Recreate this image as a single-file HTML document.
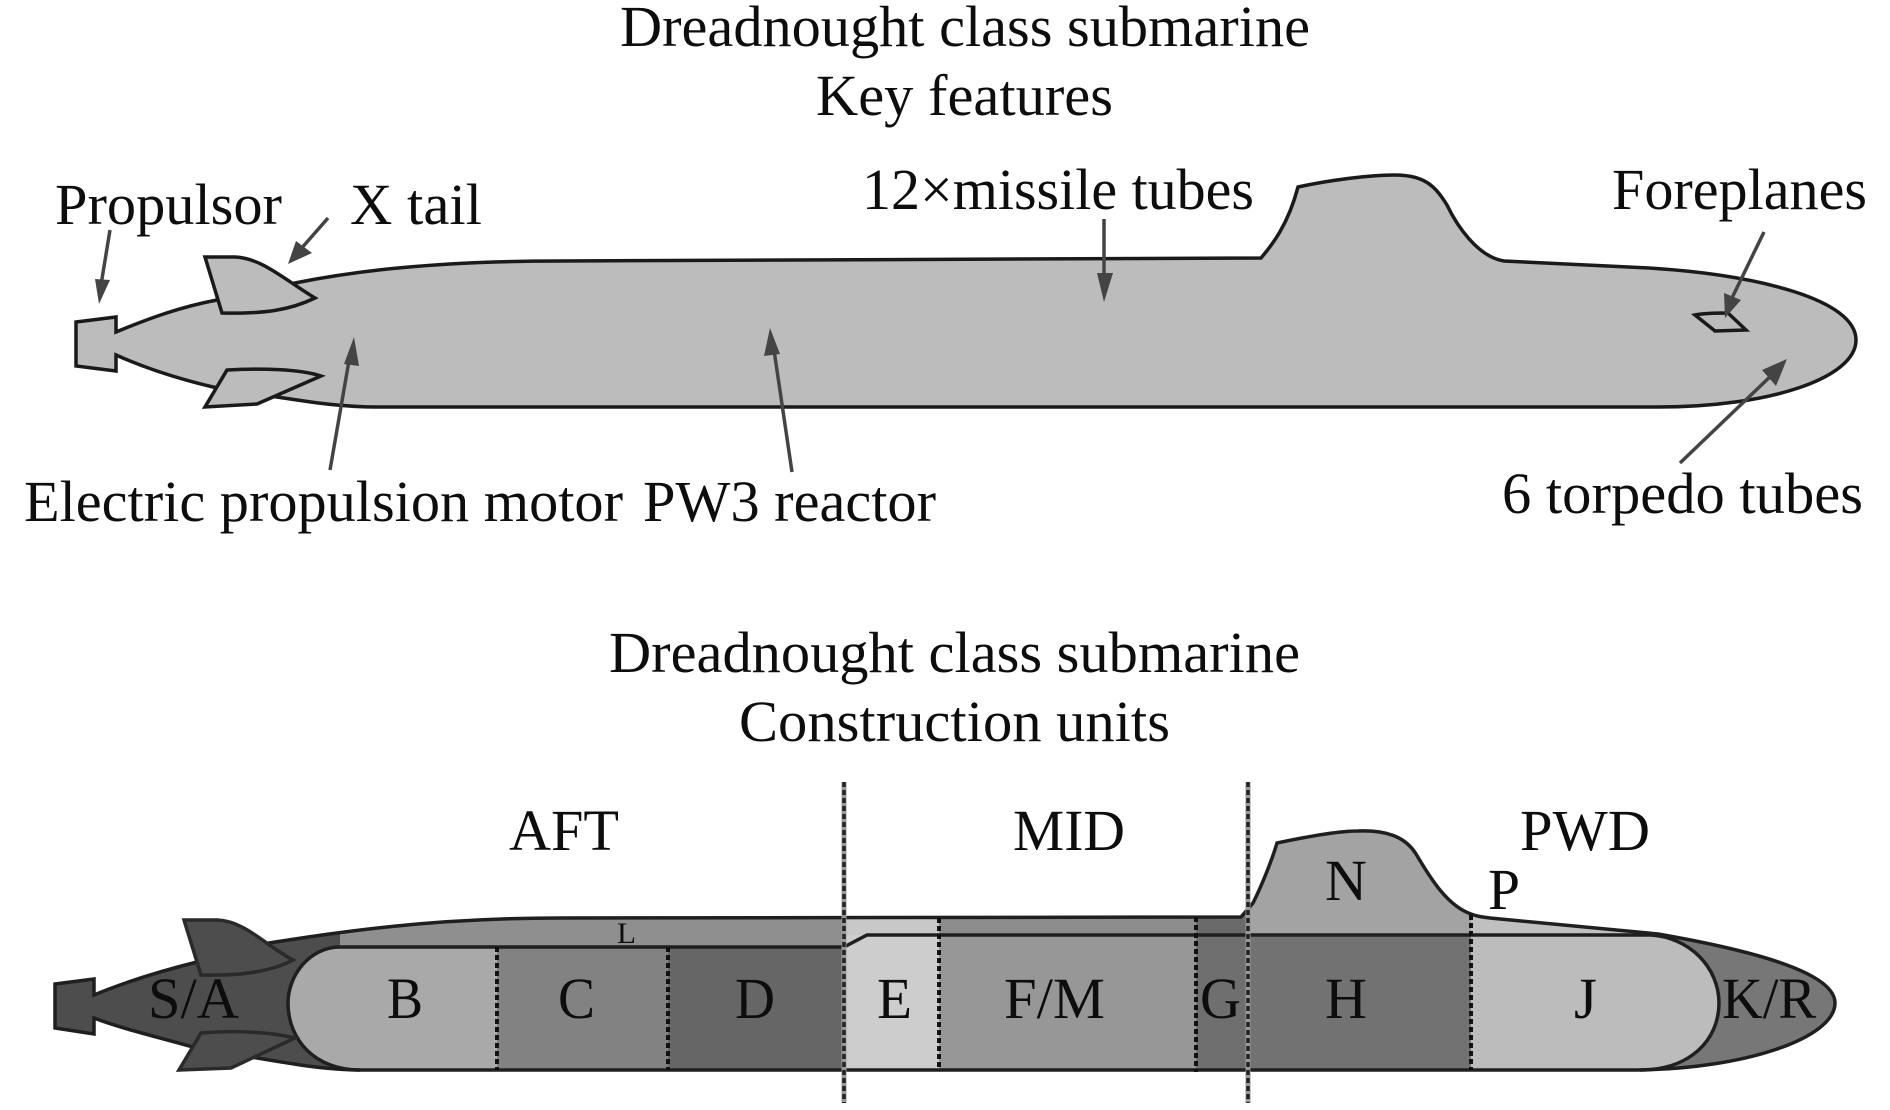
<!DOCTYPE html>
<html>
<head>
<meta charset="utf-8">
<style>
html,body{margin:0;padding:0;background:#fff;}
svg{display:block;}
text{font-family:"Liberation Serif",serif;font-size:58px;fill:#0d0d0d;}
</style>
</head>
<body>
<svg width="1890" height="1110" viewBox="0 0 1890 1110" xmlns="http://www.w3.org/2000/svg">
<defs>
<clipPath id="hullClip"><path d="M55 984 L94 979 L94 995 C130 980 165 970 197 962 L269 943 C340 932 430 918 560 918 L1241 917 L1253 903 C1262 885 1272 860 1277 843 C1310 836 1340 831 1358 831 C1385 830 1405 836 1416 854 C1427 872 1445 905 1471 914 C1478 917 1484 917 1490 918 L1658 934 C1750 950 1835 972 1835 1003 C1835 1038 1745 1069 1636 1070 L362 1070 C320 1070 280 1062 193 1047 C150 1035 120 1028 94 1018 L94 1034 L55 1028 Z"/></clipPath>
</defs>
<rect width="1890" height="1110" fill="#fff"/>

<!-- TOP SUBMARINE -->
<path d="M76 322 L116 317 L116 332 C150 318 180 307 217 300 L295 283 C350 272 430 261 560 261 L1261 258 C1272 245 1288 225 1298 187 C1330 180 1370 175 1394 175 C1425 175 1435 186 1447 205 C1457 226 1478 257 1504 261 L1649 268 C1760 275 1856 300 1856 340 C1856 378 1770 407 1658 407 L378 407 C340 407 310 402 277 397 L213 387 C175 378 145 368 116 355 L116 371 L76 366 Z" fill="#bcbcbc" stroke="#1a1a1a" stroke-width="3.5" stroke-linejoin="miter"/>
<path d="M205 257 L235 257 C262 258 285 280 315 298 C290 310 265 314 222 313 Z" fill="#bcbcbc" stroke="#1a1a1a" stroke-width="3.5"/>
<path d="M227 370 C260 368 300 369 321 376 L257 404 L205 407 Z" fill="#bcbcbc" stroke="#1a1a1a" stroke-width="3.5"/>
<path d="M1695 315 C1705 313 1718 313 1728 313 L1746 330 L1715 331 Z" fill="#bcbcbc" stroke="#1a1a1a" stroke-width="3.5"/>

<!-- Arrows -->
<g stroke="#444" stroke-width="3.5" fill="#444">
<line x1="110" y1="230" x2="101" y2="285"/>
<polygon points="99,304 95,279 110,280" stroke="none"/>
<line x1="328" y1="218" x2="300" y2="250"/>
<polygon points="288,264 296,241 312,253" stroke="none"/>
<line x1="330" y1="470" x2="350" y2="355"/>
<polygon points="354,337 344,364 359,366" stroke="none"/>
<line x1="792" y1="472" x2="774" y2="350"/>
<polygon points="770,328 764,356 780,354" stroke="none"/>
<line x1="1104" y1="219" x2="1104" y2="280"/>
<polygon points="1104,302 1097,273 1113,273" stroke="none"/>
<line x1="1764" y1="232" x2="1731" y2="300"/>
<polygon points="1725,318 1724,293 1741,300" stroke="none"/>
<line x1="1680" y1="463" x2="1775" y2="372"/>
<polygon points="1787,359 1762,370 1776,386" stroke="none"/>
</g>

<text x="620" y="46" textLength="690" lengthAdjust="spacingAndGlyphs">Dreadnought class submarine</text>
<text x="816" y="115" textLength="297" lengthAdjust="spacingAndGlyphs">Key features</text>
<text x="862" y="209" textLength="392" lengthAdjust="spacingAndGlyphs">12×missile tubes</text>
<text x="55" y="224" textLength="227" lengthAdjust="spacingAndGlyphs">Propulsor</text>
<text x="350" y="224" textLength="132" lengthAdjust="spacingAndGlyphs">X tail</text>
<text x="1612" y="209" textLength="255" lengthAdjust="spacingAndGlyphs">Foreplanes</text>
<text x="24" y="521" textLength="599" lengthAdjust="spacingAndGlyphs">Electric propulsion motor</text>
<text x="643" y="521" textLength="293" lengthAdjust="spacingAndGlyphs">PW3 reactor</text>
<text x="1502" y="513" textLength="361" lengthAdjust="spacingAndGlyphs">6 torpedo tubes</text>

<!-- BOTTOM SUBMARINE -->
<text x="609" y="672" textLength="691" lengthAdjust="spacingAndGlyphs">Dreadnought class submarine</text>
<text x="739" y="741" textLength="431" lengthAdjust="spacingAndGlyphs">Construction units</text>

<path d="M55 984 L94 979 L94 995 C130 980 165 970 197 962 L269 943 C340 932 430 918 560 918 L1241 917 L1253 903 C1262 885 1272 860 1277 843 C1310 836 1340 831 1358 831 C1385 830 1405 836 1416 854 C1427 872 1445 905 1471 914 C1478 917 1484 917 1490 918 L1658 934 C1750 950 1835 972 1835 1003 C1835 1038 1745 1069 1636 1070 L362 1070 C320 1070 280 1062 193 1047 C150 1035 120 1028 94 1018 L94 1034 L55 1028 Z" fill="#4d4d4d"/>

<g clip-path="url(#hullClip)">
<rect x="340" y="900" width="504" height="50" fill="#8f8f8f"/>
<rect x="844" y="900" width="95" height="50" fill="#c8c8c8"/>
<rect x="939" y="900" width="257" height="50" fill="#8d8d8d"/>
<rect x="1196" y="900" width="52" height="50" fill="#6a6a6a"/>
<rect x="1248" y="820" width="223" height="116" fill="#a3a3a3"/>
<rect x="1471" y="900" width="200" height="36" fill="#c0c0c0"/>
<rect x="1471" y="935" width="400" height="140" fill="#777"/>
<rect x="844" y="935" width="95" height="135" fill="#cdcdcd"/>
<polygon points="844,947 867,935 867,950 844,950" fill="#cdcdcd"/>
<rect x="939" y="935" width="257" height="135" fill="#979797"/>
<rect x="1196" y="935" width="52" height="135" fill="#6f6f6f"/>
<rect x="1248" y="935" width="223" height="135" fill="#727272"/>
<rect x="497" y="947" width="171" height="123" fill="#828282"/>
<rect x="668" y="947" width="176" height="123" fill="#666"/>
<path d="M497 947 L340 947 C310 947 288 975 288 1003 C288 1040 315 1070 360 1070 L497 1070 Z" fill="#a9a9a9"/>
<path d="M1471 935 L1650 935 C1690 937 1719 968 1719 1003 C1719 1040 1690 1070 1640 1070 L1471 1070 Z" fill="#bcbcbc"/>
</g>

<!-- pressure hull lines -->
<g fill="none" stroke="#1f1f1f" stroke-width="3.5">
<path d="M340 947 C310 947 288 975 288 1003 C288 1040 315 1070 360 1070"/>
<path d="M340 947 L844 947 L867 935 L1650 935 C1690 937 1719 968 1719 1003 C1719 1040 1690 1070 1640 1070"/>
<path d="M55 984 L94 979 L94 995 C130 980 165 970 197 962 L269 943 C340 932 430 918 560 918 L1241 917 L1253 903 C1262 885 1272 860 1277 843 C1310 836 1340 831 1358 831 C1385 830 1405 836 1416 854 C1427 872 1445 905 1471 914 C1478 917 1484 917 1490 918 L1658 934 C1750 950 1835 972 1835 1003 C1835 1038 1745 1069 1636 1070 L362 1070 C320 1070 280 1062 193 1047 C150 1035 120 1028 94 1018 L94 1034 L55 1028 Z"/>
</g>

<!-- fins -->
<path d="M184 920 L217 920 C245 921 265 945 293 960 C270 972 240 976 201 975 Z" fill="#4d4d4d" stroke="#2a2a2a" stroke-width="3.5"/>
<path d="M201 1033 C235 1030 270 1032 295 1038 L231 1068 L179 1070 Z" fill="#4d4d4d" stroke="#2a2a2a" stroke-width="3.5"/>

<!-- dashed dividers -->
<g stroke="#111" stroke-width="4" stroke-dasharray="5 3" fill="none">
<line x1="497" y1="947" x2="497" y2="1070"/>
<line x1="668" y1="947" x2="668" y2="1070"/>
<line x1="939" y1="918" x2="939" y2="1070"/>
<line x1="1196" y1="917" x2="1196" y2="1072"/>
<line x1="1471" y1="915" x2="1471" y2="1070"/>
</g>
<g fill="none">
<line x1="844" y1="782" x2="844" y2="1103" stroke="#999" stroke-width="5"/>
<line x1="1248" y1="782" x2="1248" y2="1103" stroke="#999" stroke-width="5"/>
<line x1="844" y1="782" x2="844" y2="1103" stroke="#222" stroke-width="3.5" stroke-dasharray="5 3"/>
<line x1="1248" y1="782" x2="1248" y2="1103" stroke="#222" stroke-width="3.5" stroke-dasharray="5 3"/>
</g>

<text x="509" y="850" textLength="110" lengthAdjust="spacingAndGlyphs">AFT</text>
<text x="1013" y="850" textLength="112" lengthAdjust="spacingAndGlyphs">MID</text>
<text x="1520" y="850" textLength="130" lengthAdjust="spacingAndGlyphs">PWD</text>
<text x="1325" y="900" textLength="42" lengthAdjust="spacingAndGlyphs">N</text>
<text x="1488" y="909" textLength="32" lengthAdjust="spacingAndGlyphs">P</text>
<text x="617" y="943" textLength="19" lengthAdjust="spacingAndGlyphs" style="font-size:30px">L</text>
<text x="148" y="1018" textLength="91" lengthAdjust="spacingAndGlyphs">S/A</text>
<text x="387" y="1018" textLength="36" lengthAdjust="spacingAndGlyphs">B</text>
<text x="558" y="1018" textLength="37" lengthAdjust="spacingAndGlyphs">C</text>
<text x="735" y="1018" textLength="40" lengthAdjust="spacingAndGlyphs">D</text>
<text x="877" y="1018" textLength="35" lengthAdjust="spacingAndGlyphs">E</text>
<text x="1004" y="1018" textLength="101" lengthAdjust="spacingAndGlyphs">F/M</text>
<text x="1200" y="1018" textLength="41" lengthAdjust="spacingAndGlyphs">G</text>
<text x="1325" y="1018" textLength="42" lengthAdjust="spacingAndGlyphs">H</text>
<text x="1574" y="1018" textLength="23" lengthAdjust="spacingAndGlyphs">J</text>
<text x="1722" y="1018" textLength="94" lengthAdjust="spacingAndGlyphs">K/R</text>
</svg>
</body>
</html>
